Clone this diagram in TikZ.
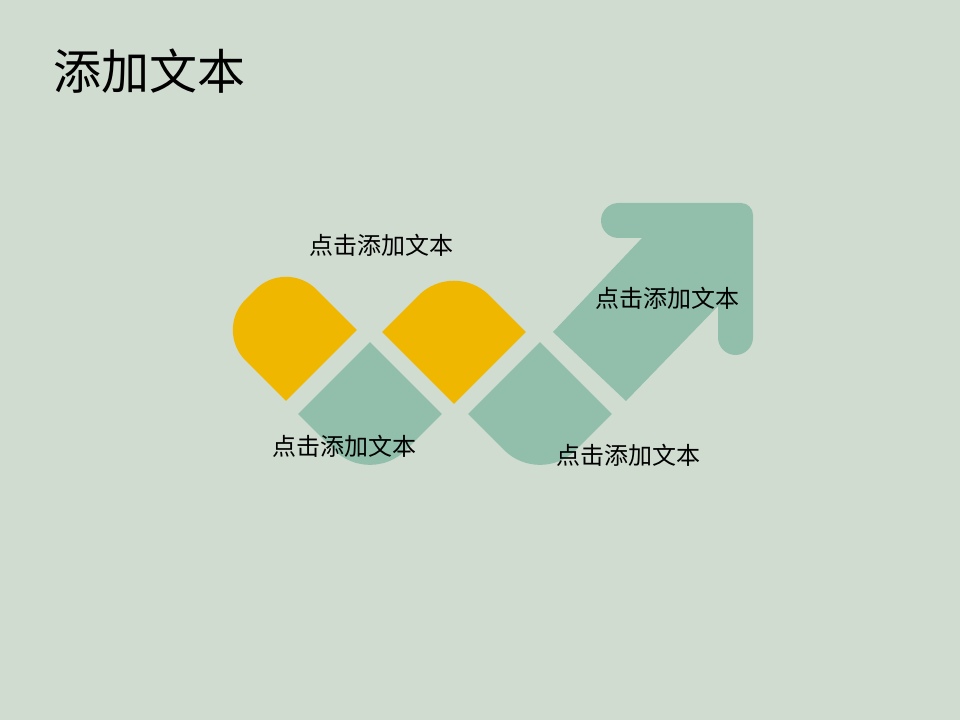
\documentclass[tikz,border=0pt]{standalone}
\usepackage{fontspec}
\newfontfamily\cjkfont{Noto Sans CJK SC}
\definecolor{slidebg}{HTML}{D0DCD0}
\definecolor{leafyellow}{HTML}{F0B700}
\definecolor{leafteal}{HTML}{91BFAB}

\begin{document}
\begin{tikzpicture}[
    x=0.75pt, y=0.75pt,
    leaftext/.style={font=\cjkfont\fontsize{18pt}{18pt}\selectfont, inner sep=0pt}
  ]
  \fill[slidebg] (0,0) rectangle (960,-720);
  \useasboundingbox (0,0) rectangle (960,-720);

  % yellow leaves
  \begin{scope}[shift={(286,-330)}, rotate=45]
    \fill[leafyellow] (-50.2,-50.2) -- (50.2,-50.2) -- (50.2,7.2)
      arc[start angle=0, end angle=90, radius=43] -- (-7.2,50.2)
      arc[start angle=90, end angle=180, radius=43] -- cycle;
  \end{scope}
  \begin{scope}[shift={(454,-332)}, rotate=45]
    \fill[leafyellow] (-50.9,-50.9) -- (50.9,-50.9) -- (50.9,0.9)
      arc[start angle=0, end angle=90, radius=50] -- (-50.9,50.9) -- cycle;
  \end{scope}

  % teal leaves
  \begin{scope}[shift={(370,-414)}, rotate=45]
    \fill[leafteal] (0.1,-50.9) -- (50.9,-50.9) -- (50.9,50.9) -- (-50.9,50.9) -- (-50.9,0.1)
      arc[start angle=180, end angle=270, radius=51] -- cycle;
  \end{scope}
  \begin{scope}[shift={(540,-414)}, rotate=45]
    \fill[leafteal] (0.1,-50.9) -- (50.9,-50.9) -- (50.9,50.9) -- (-50.9,50.9) -- (-50.9,0.1)
      arc[start angle=180, end angle=270, radius=51] -- cycle;
  \end{scope}

  % arrow
  \fill[leafteal] (553,-332) -- (642,-238) -- (618.5,-238)
    arc[start angle=270, end angle=90, radius=17.5] -- (741,-203)
    arc[start angle=90, end angle=0, radius=12] -- (753,-337.5)
    arc[start angle=0, end angle=-180, radius=17.5] -- (718,-306)
    -- (626,-401) -- cycle;

  \node[font=\cjkfont\fontsize{36pt}{36pt}\selectfont, anchor=west, inner sep=0pt] (title) at (53,-71) {添加文本};
  \node[leaftext] (labeltop) at (381.5,-245) {点击添加文本};
  \node[leaftext] (labelleft) at (344,-446.5) {点击添加文本};
  \node[leaftext] (labelright) at (628,-455) {点击添加文本};
  \node[leaftext] (labelarrow) at (667,-298) {点击添加文本};
\end{tikzpicture}
\end{document}
